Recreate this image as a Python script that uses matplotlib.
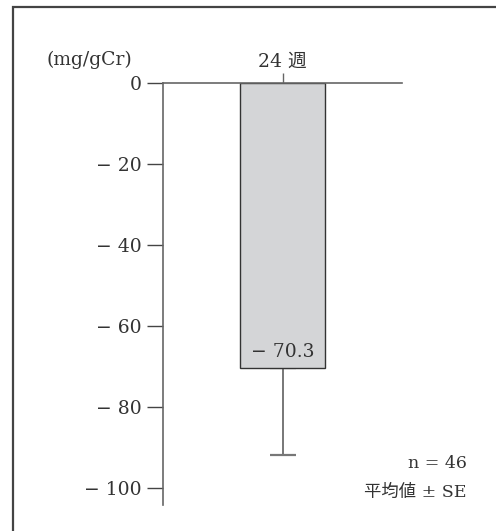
import matplotlib.pyplot as plt
from matplotlib.patches import Rectangle

plt.rcParams["font.family"] = ["DejaVu Serif", "Noto Sans CJK JP"]

# data
categories = ["24 週"]
means = [-70.3]
se = [21.5]
bar_label = "− 70.3"
y_ticks = [0, -20, -40, -60, -80, -100]
y_labels = ["0", "− 20", "− 40", "− 60", "− 80", "− 100"]
unit = "(mg/gCr)"
note_n = "n = 46"
note_se = "平均値 ± SE"

txt_color = "#333333"
axis_color = "#666666"
fs = 13.5

fig = plt.figure(figsize=(4.96, 5.31), dpi=100)
ax = fig.add_axes([163 / 496, 1 - 505 / 531, 239 / 496, 422 / 531])

# outer frame (cut at right and bottom)
fig.patches.append(
    Rectangle((13 / 496, -0.1), 1.2, 1 - 7 / 531 + 0.1, transform=fig.transFigure,
              fill=False, edgecolor="#444444", linewidth=1.6)
)

x = list(range(len(categories)))
ax.bar(x, means, width=0.5, color="#d4d5d7", edgecolor="#333333", linewidth=1.0, zorder=2)
ax.errorbar(x, means, yerr=[se, [0] * len(se)], fmt="none", ecolor="#777777",
            elinewidth=1.4, capsize=9.5, capthick=1.6, zorder=1)

ax.annotate(bar_label, (x[0], means[0]), xytext=(0, 5), textcoords="offset points",
            ha="center", va="bottom", fontsize=fs, color=txt_color)

ax.set_xlim(-0.711, 0.711)
ax.set_ylim(-104.2, 0)

ax.xaxis.tick_top()
ax.set_xticks(x)
ax.set_xticklabels(categories, fontsize=fs, color=txt_color)
ax.tick_params(axis="x", direction="out", length=7, width=1.0, color=axis_color, pad=2)

ax.set_yticks(y_ticks)
ax.set_yticklabels(y_labels, fontsize=fs, color=txt_color)
ax.tick_params(axis="y", direction="out", length=11.5, width=1.0, color="#444444", pad=4)

for side in ["right", "bottom"]:
    ax.spines[side].set_visible(False)
ax.spines["top"].set_color(axis_color)
ax.spines["left"].set_color(axis_color)
ax.spines["top"].set_linewidth(1.2)
ax.spines["left"].set_linewidth(1.2)

fig.text(89 / 496, 1 - 60 / 531, unit, ha="center", va="center", fontsize=fs, color=txt_color)
fig.text(467 / 496, 1 - 463 / 531, note_n, ha="right", va="center", fontsize=12.5, color=txt_color)
fig.text(467 / 496, 1 - 492 / 531, note_se, ha="right", va="center", fontsize=12.5, color=txt_color)

fig.savefig("out.png", dpi=100)
